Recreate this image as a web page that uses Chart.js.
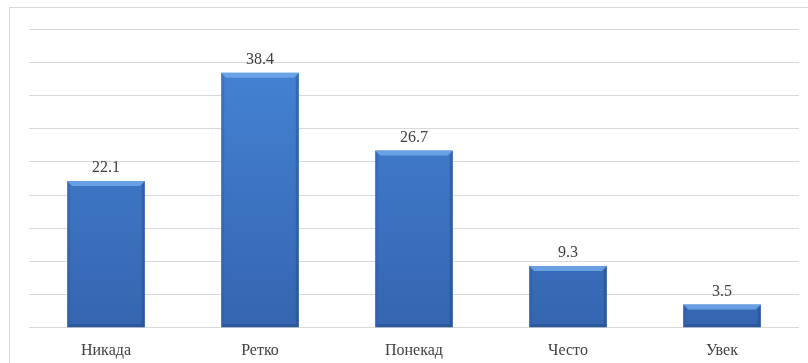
<!DOCTYPE html>
<html>
<head>
<meta charset="utf-8">
<script src="https://cdn.jsdelivr.net/npm/chart.js@4.4.1/dist/chart.umd.min.js"></script>
<style>
  html, body { margin: 0; padding: 0; background: #fff; overflow: hidden; }
  #wrap { position: relative; width: 808px; height: 363px; }
  #frame { position: absolute; left: 9px; top: 7px; width: 820px; height: 380px; border: 1px solid #d9d9d9; box-sizing: border-box; }
  canvas { position: absolute; left: 0; top: 0; }
</style>
</head>
<body>
<div id="wrap">
  <div id="frame"></div>
  <canvas id="chart" width="808" height="363"></canvas>
</div>
<script>
// Одговори и проценти
const categories = ['Никада', 'Ретко', 'Понекад', 'Често', 'Увек'];
const percentages = [22.1, 38.4, 26.7, 9.3, 3.5];
const yMax = 45;
const yStep = 5;

const serif = '"Liberation Serif", "Times New Roman", serif';

// Вертикални градијент за стубове
function barGradient(context) {
    const chart = context.chart;
    const area = chart.chartArea;
    if (!area) return '#3f7fd0';
    const g = chart.ctx.createLinearGradient(0, area.top, 0, area.bottom);
    g.addColorStop(0, '#4686d8');
    g.addColorStop(1, '#3565b0');
    return g;
}

// Ивице стубова (рељефни изглед) и вредности изнад њих
const bevelAndLabels = {
    id: 'bevelAndLabels',
    afterDatasetsDraw(chart) {
        const ctx = chart.ctx;
        const meta = chart.getDatasetMeta(0);
        meta.data.forEach((bar, i) => {
            const p = bar.getProps(['x', 'y', 'base', 'width'], true);
            const l = p.x - p.width / 2, r = p.x + p.width / 2;
            const t = p.y, bt = p.base;
            const bb = Math.min(5, (bt - t) / 2);
            const sb = Math.min(3, (bt - t) / 2);
            ctx.save();
            // горња ивица
            ctx.fillStyle = 'rgba(120,175,240,0.75)';
            ctx.beginPath();
            ctx.moveTo(l, t); ctx.lineTo(r, t); ctx.lineTo(r - bb, t + bb); ctx.lineTo(l + bb, t + bb);
            ctx.closePath(); ctx.fill();
            // леви бок
            ctx.fillStyle = 'rgba(40,90,160,0.3)';
            ctx.beginPath();
            ctx.moveTo(l, t); ctx.lineTo(l + sb, t + bb); ctx.lineTo(l + sb, bt - sb); ctx.lineTo(l, bt);
            ctx.closePath(); ctx.fill();
            // десни бок
            ctx.fillStyle = 'rgba(30,70,130,0.4)';
            ctx.beginPath();
            ctx.moveTo(r, t); ctx.lineTo(r - sb, t + bb); ctx.lineTo(r - sb, bt - sb); ctx.lineTo(r, bt);
            ctx.closePath(); ctx.fill();
            // доња ивица
            ctx.fillStyle = 'rgba(25,60,115,0.35)';
            ctx.beginPath();
            ctx.moveTo(l, bt); ctx.lineTo(r, bt); ctx.lineTo(r - sb, bt - sb); ctx.lineTo(l + sb, bt - sb);
            ctx.closePath(); ctx.fill();
            // вредност
            ctx.fillStyle = '#404040';
            ctx.font = '16px ' + serif;
            ctx.textAlign = 'center';
            ctx.textBaseline = 'bottom';
            ctx.fillText(percentages[i].toFixed(1), p.x, t - 5);
            ctx.restore();
        });
    }
};

new Chart(document.getElementById('chart'), {
    type: 'bar',
    data: {
        labels: categories,
        datasets: [{
            data: percentages,
            backgroundColor: barGradient,
            borderWidth: 0,
            categoryPercentage: 0.7,
            barPercentage: 0.72
        }]
    },
    options: {
        responsive: false,
        animation: false,
        layout: { padding: { left: 29, right: 9, top: 29, bottom: -2 } },
        plugins: { legend: { display: false }, tooltip: { enabled: false } },
        scales: {
            x: {
                grid: { display: false },
                border: { display: false },
                ticks: {
                    color: '#404040',
                    font: { family: serif, size: 16 },
                    padding: 5
                }
            },
            y: {
                min: 0,
                max: yMax,
                ticks: { display: false, stepSize: yStep },
                grid: { color: '#d9d9d9', lineWidth: 1, drawTicks: false },
                border: { display: false }
            }
        }
    },
    plugins: [bevelAndLabels]
});
</script>
</body>
</html>
